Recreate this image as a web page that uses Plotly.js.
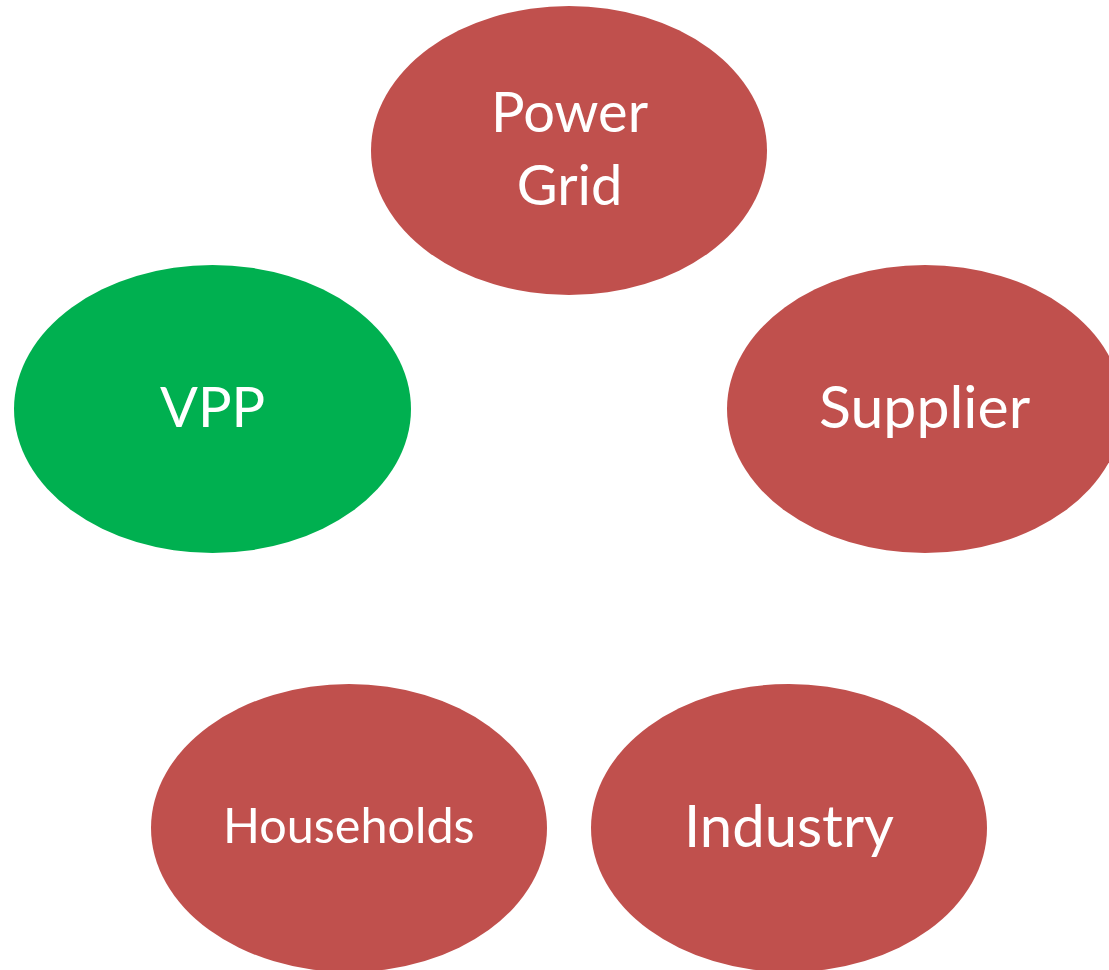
<!DOCTYPE html>
<html>
<head>
<meta charset="utf-8">
<script src="https://cdn.plot.ly/plotly-3.0.1.min.js"></script>
<style>html,body{margin:0;padding:0;background:#fff;}#chart{width:1109px;height:970px;}</style>
</head>
<body>
<div id="chart"></div>
<script>
// Node data
const labels = ["Power<br>Grid", "VPP", "Supplier", "Households", "Industry"];
const centerX = [569, 212.5, 925, 349, 789];
const centerY = [150.5, 409, 409, 828, 828];
const radiusX = [198, 198.5, 198, 198, 198];
const radiusY = [144.5, 144, 144, 144, 144];
const fillColors = ["#C0504D", "#00B050", "#C0504D", "#C0504D", "#C0504D"];
const fontSizes = [56, 56, 59, 48.5, 58];

const shapes = labels.map((l, i) => ({
  type: "circle",
  xref: "x", yref: "y",
  x0: centerX[i] - radiusX[i], x1: centerX[i] + radiusX[i],
  y0: centerY[i] - radiusY[i], y1: centerY[i] + radiusY[i],
  fillcolor: fillColors[i],
  line: {width: 0},
  layer: "below"
}));

const annotations = labels.map((l, i) => ({
  xref: "x", yref: "y",
  x: centerX[i], y: centerY[i],
  text: l,
  showarrow: false,
  xanchor: "center", yanchor: "middle",
  yshift: 4,
  font: {family: "Lato, 'Open Sans', sans-serif", size: fontSizes[i], color: "#ffffff"}
}));

const trace = {
  type: "scatter",
  mode: "markers",
  x: centerX,
  y: centerY,
  marker: {size: 1, opacity: 0},
  hoverinfo: "skip",
  showlegend: false
};

const layout = {
  width: 1109, height: 970,
  margin: {l: 0, r: 0, t: 0, b: 0},
  paper_bgcolor: "#ffffff", plot_bgcolor: "#ffffff",
  xaxis: {range: [0, 1109], visible: false, fixedrange: true},
  yaxis: {range: [970, 0], visible: false, fixedrange: true},
  shapes: shapes,
  annotations: annotations,
  showlegend: false
};

Plotly.newPlot("chart", [trace], layout, {displayModeBar: false, staticPlot: true});
</script>
</body>
</html>
